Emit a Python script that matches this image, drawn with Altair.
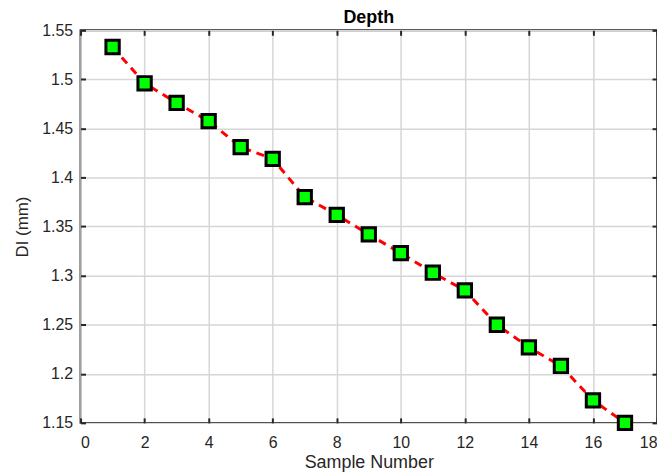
import altair as alt
import pandas as pd

samples = list(range(1, 18))
depth = [1.533, 1.496, 1.476, 1.4575, 1.431, 1.419, 1.380, 1.362, 1.342,
         1.323, 1.303, 1.285, 1.250, 1.227, 1.208, 1.173, 1.150]
x_ticks = list(range(0, 19, 2))
y_ticks = [1.15, 1.2, 1.25, 1.3, 1.35, 1.4, 1.45, 1.5, 1.55]

df = pd.DataFrame({"Sample": samples, "DI": depth})

W, H = 580, 395
FONT = "Liberation Sans"
LBL = "#262626"

xscale = alt.Scale(domain=[0, 18], nice=False, zero=False)
yscale = alt.Scale(domain=[1.15, 1.55], nice=False, zero=False)

base = alt.Chart(df)

line = base.mark_line(color="#ff0000", strokeWidth=3, strokeDash=[8, 6]).encode(
    x=alt.X("Sample:Q", scale=xscale,
            axis=alt.Axis(values=x_ticks, title="Sample Number", orient="bottom",
                          ticks=False, domain=False, grid=True, gridColor="#d6d6d6",
                          gridWidth=1.5, labelFont=FONT, labelFontSize=16,
                          labelColor=LBL, labelPadding=12, titleFont=FONT,
                          titleFontSize=18, titleFontWeight="normal", titleColor=LBL,
                          titlePadding=3)),
    y=alt.Y("DI:Q", scale=yscale,
            axis=alt.Axis(values=y_ticks, format=".3~g", title="DI (mm)", orient="left",
                          ticks=False, domain=False, grid=True, gridColor="#d6d6d6",
                          gridWidth=1.5, labelFont=FONT, labelFontSize=16,
                          labelColor=LBL, labelPadding=8, titleFont=FONT,
                          titleFontSize=17, titleFontWeight="normal", titleColor=LBL,
                          titlePadding=10)),
)

tick_style = dict(labels=False, domain=False, grid=False, ticks=True, tickSize=5,
                  tickWidth=2, tickColor="#262626", title=None)

points = base.mark_point(shape="square", filled=True, fill="#00ff00", stroke="#000000",
                         strokeWidth=3, size=180, opacity=1).encode(
    x=alt.X("Sample:Q", scale=xscale,
            axis=alt.Axis(values=x_ticks, orient="top", offset=-H, **tick_style)),
    y=alt.Y("DI:Q", scale=yscale,
            axis=alt.Axis(values=y_ticks, orient="right", offset=-W, **tick_style)),
)

ghost = base.mark_point(opacity=0).encode(
    x=alt.X("Sample:Q", scale=xscale,
            axis=alt.Axis(values=x_ticks, orient="bottom", offset=-H, **tick_style)),
    y=alt.Y("DI:Q", scale=yscale,
            axis=alt.Axis(values=y_ticks, orient="left", offset=-W, **tick_style)),
)

chart = alt.layer(line, ghost, points).resolve_axis(
    x="independent", y="independent"
).properties(
    width=W, height=H,
    title=alt.TitleParams("Depth", font=FONT, fontSize=18, fontWeight="bold",
                          color="#000000", offset=-5),
    autosize=alt.AutoSizeParams(type="none"),
    padding={"left": 73, "top": 21, "right": 0, "bottom": 50},
).configure_view(stroke="#262626", strokeWidth=2)

chart.save("out.html", embed_options={"renderer": "svg", "actions": False})
